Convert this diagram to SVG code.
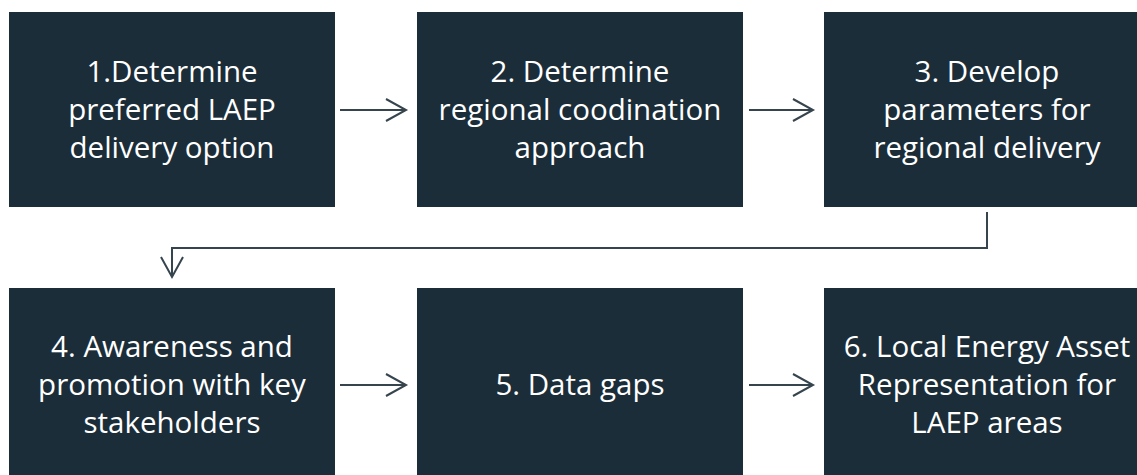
<svg xmlns="http://www.w3.org/2000/svg" width="1137" height="475" viewBox="0 0 1137 475">
<style>
.box{fill:#1b2d39}
.t{font-family:"Open Sans","Liberation Sans",sans-serif;font-size:29.5px;fill:#ffffff;text-anchor:middle}
.c{fill:none;stroke:#36444e;stroke-width:2}
</style>
<defs>
<marker id="ah" markerWidth="24" markerHeight="26" refX="21" refY="12" orient="auto" markerUnits="userSpaceOnUse">
<path d="M1,1 L21,12 L1,23" fill="none" stroke="#36444e" stroke-width="2"/>
</marker>
</defs>
<rect width="1137" height="475" fill="#ffffff"/>
<g id="node1"><rect class="box" x="9" y="12" width="326" height="195"/>
<text class="t" x="172" y="82">1.Determine</text><text class="t" x="172" y="120">preferred LAEP</text><text class="t" x="172" y="158">delivery option</text></g>
<g id="node2"><rect class="box" x="417" y="12" width="326" height="195"/>
<text class="t" x="580" y="82">2. Determine</text><text class="t" x="580" y="120">regional coodination</text><text class="t" x="580" y="158">approach</text></g>
<g id="node3"><rect class="box" x="824" y="12" width="326" height="195"/>
<text class="t" x="987" y="82">3. Develop</text><text class="t" x="987" y="120">parameters for</text><text class="t" x="987" y="158">regional delivery</text></g>
<g id="node4"><rect class="box" x="9" y="288" width="326" height="195"/>
<text class="t" x="172" y="357">4. Awareness and</text><text class="t" x="172" y="395">promotion with key</text><text class="t" x="172" y="433">stakeholders</text></g>
<g id="node5"><rect class="box" x="417" y="288" width="326" height="195"/>
<text class="t" x="580" y="395">5. Data gaps</text></g>
<g id="node6"><rect class="box" x="824" y="288" width="326" height="195"/>
<text class="t" x="987" y="357">6. Local Energy Asset</text><text class="t" x="987" y="395">Representation for</text><text class="t" x="987" y="433">LAEP areas</text></g>
<g id="connectors">
<line class="c" x1="340" y1="110" x2="406" y2="110" marker-end="url(#ah)"/>
<line class="c" x1="749" y1="110" x2="813" y2="110" marker-end="url(#ah)"/>
<path class="c" d="M987,212 V248 H172 V277" marker-end="url(#ah)"/>
<line class="c" x1="340" y1="385" x2="406" y2="385" marker-end="url(#ah)"/>
<line class="c" x1="749" y1="385" x2="813" y2="385" marker-end="url(#ah)"/>
</g>
</svg>
